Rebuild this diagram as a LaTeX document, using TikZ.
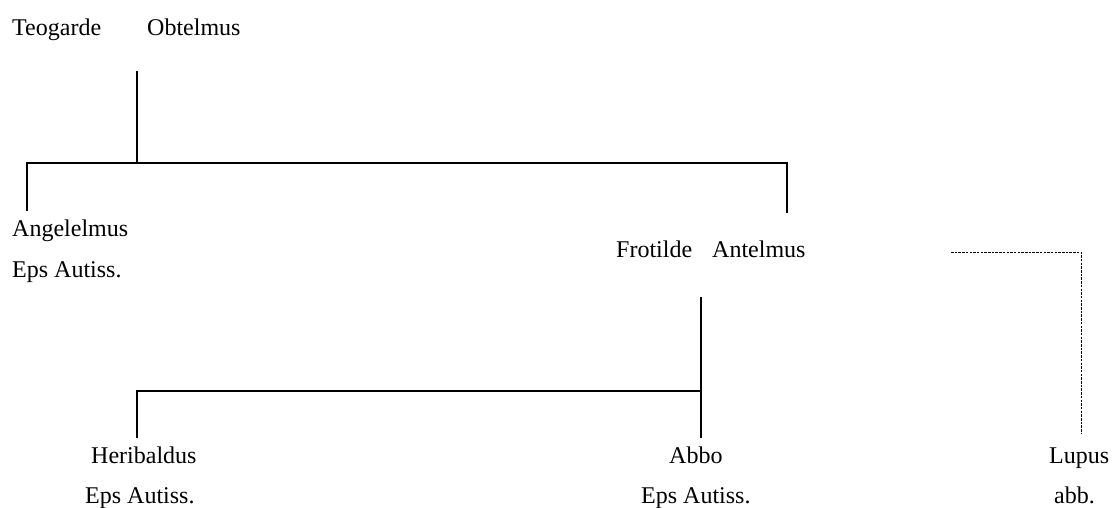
\documentclass[tikz,border=0pt]{standalone}
\usepackage{fontspec}
\setmainfont{Liberation Serif}
\usepackage{tikz}
\usetikzlibrary{positioning}

\begin{document}
\begin{tikzpicture}[
				x=1pt, y=-1pt,
				person/.style={anchor=base west, inner sep=0pt,
						font=\fontsize{24}{28}\selectfont},
				title/.style={person},
				line/.style={line width=1.6pt, line cap=rect},
				link/.style={line width=0.8pt, dash pattern=on 2.5pt off 1.2pt}]

			\useasboundingbox (0,0) rectangle (1112,507);

			% Generation 1: parents
			\node[person] (teogarde) at (12,35) {Teogarde};
			\node[person] (obtelmus) at (147,35) {Obtelmus};
			\coordinate (par1) at (137,72);
			\coordinate (bar1) at (137,163);
			\coordinate (bar1l) at (27,163);
			\coordinate (bar1r) at (787,163);
			\coordinate (drop1l) at (27,210);
			\coordinate (drop1r) at (787,212);

			% Generation 2: children
			\node[person] (angelelmus) at (12,236) {Angelelmus};
			\node[title]  (angtitle)   at (12,277) {Eps Autiss.};
			\node[person] (frotilde)   at (616,257) {Frotilde};
			\node[person] (antelmus)   at (712,257) {Antelmus};
			\coordinate (par2) at (701,298);
			\coordinate (bar2) at (701,391);
			\coordinate (bar2l) at (137,391);
			\coordinate (drop2l) at (137,437);
			\coordinate (drop2r) at (701,437);
			\coordinate (dash1) at (951,252);
			\coordinate (dash2) at (1081,252);
			\coordinate (dash3) at (1081,434);

			% Generation 3: grandchildren
			\node[person] (heribaldus) at (91,463) {Heribaldus};
			\node[title]  (hertitle)   at (85,503) {Eps Autiss.};
			\node[person] (abbo)       at (669,463) {Abbo};
			\node[title]  (abbotitle)  at (641,503) {Eps Autiss.};
			\node[person] (lupus)      at (1049,463) {Lupus};
			\node[title]  (luptitle)   at (1054,503) {abb.};

			% connectors
			\draw[line] (par1) -- (bar1);
			\draw[line] (drop1l) -- (bar1l) -- (bar1r) -- (drop1r);
			\draw[line] (par2) -- (drop2r);
			\draw[line] (bar2) -- (bar2l) -- (drop2l);
			\draw[link] (dash1) -- (dash2) -- (dash3);

		\end{tikzpicture}
\end{document}
